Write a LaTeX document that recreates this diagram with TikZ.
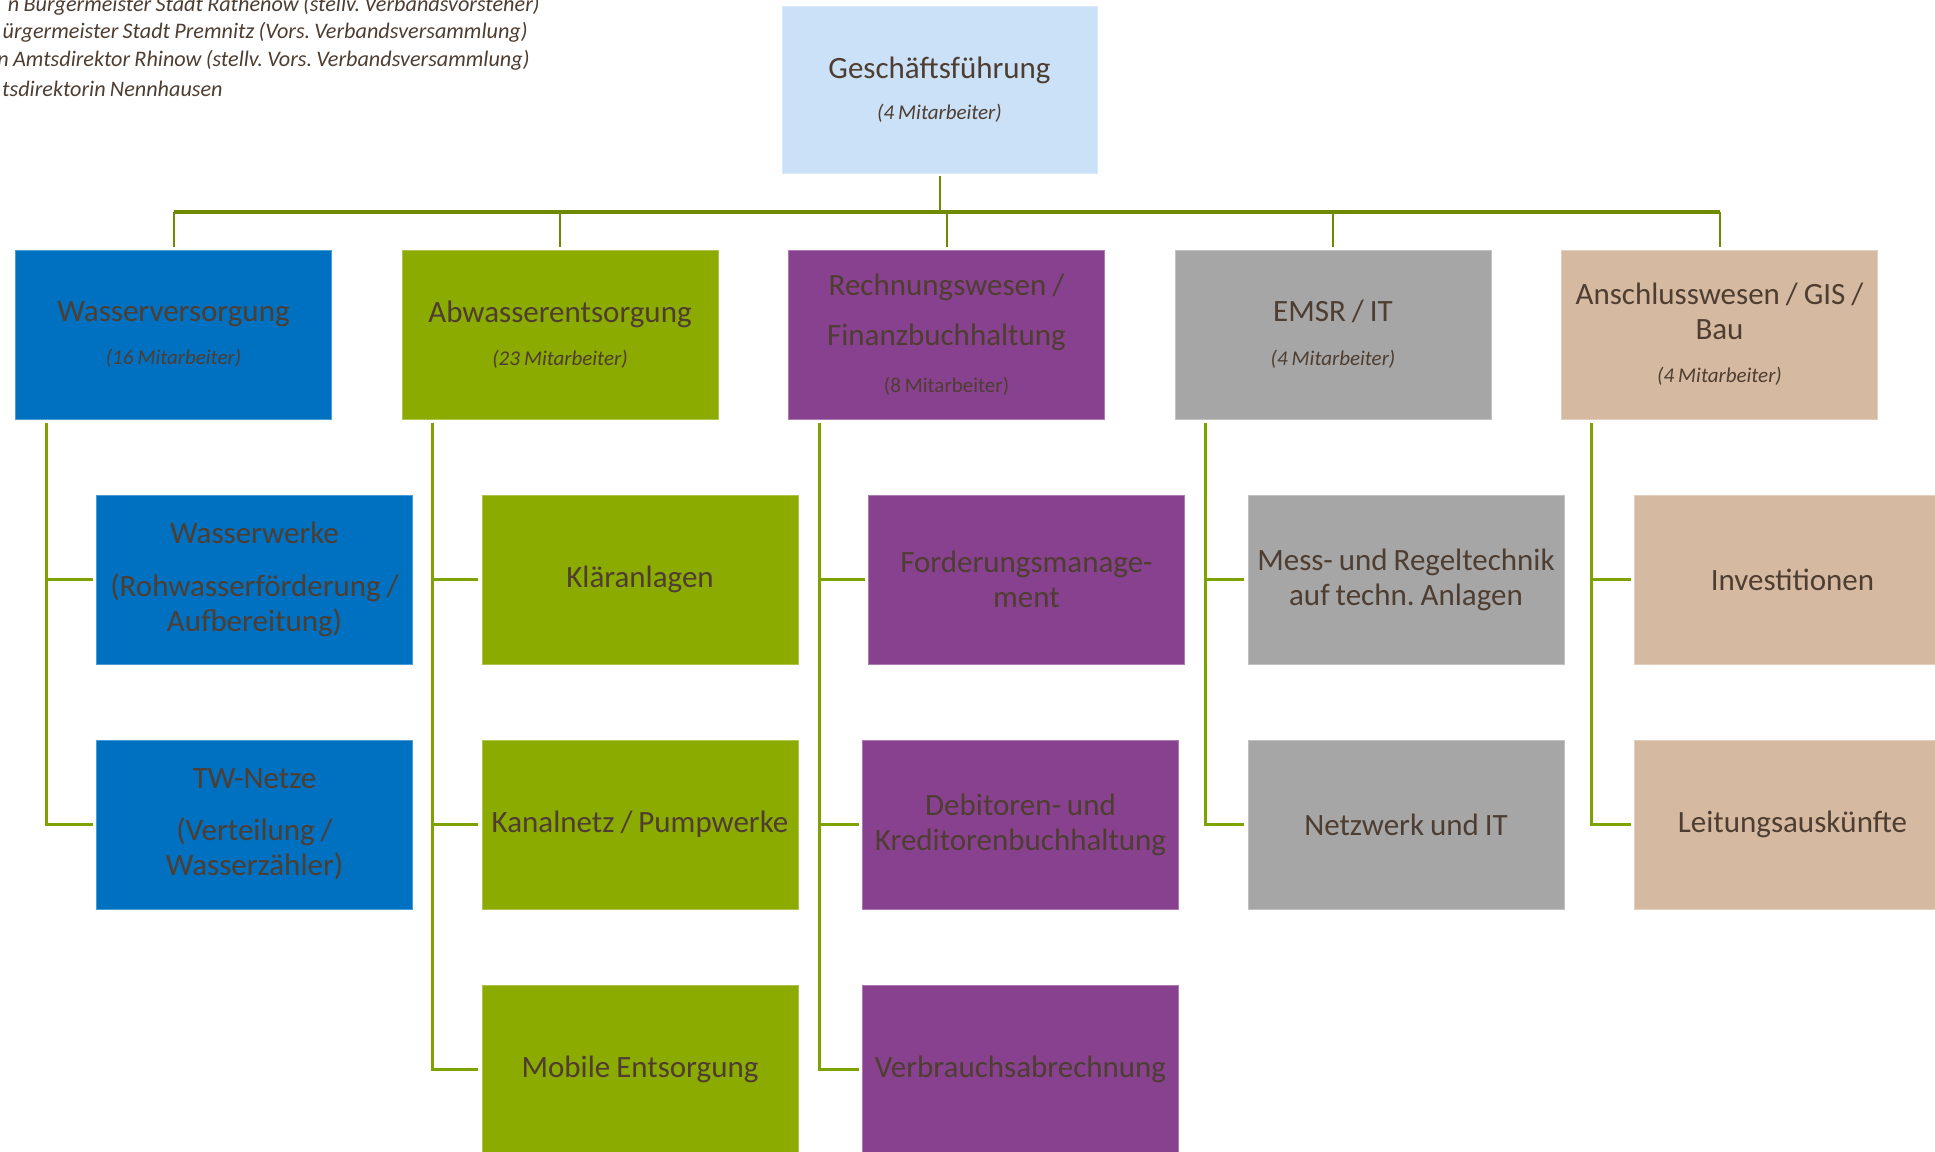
\documentclass[tikz,border=0pt]{standalone}
\usepackage{fontspec}
\setmainfont{Carlito}[WordSpace=0.85]
\frenchspacing
\usetikzlibrary{positioning,calc}
\definecolor{ink}{HTML}{4E3D31}
\definecolor{cgf}{HTML}{CAE1F8}
\definecolor{cwv}{HTML}{0070C0}
\definecolor{caw}{HTML}{8CAB00}
\definecolor{crw}{HTML}{88418F}
\definecolor{cit}{HTML}{A6A6A6}
\definecolor{can}{HTML}{D5BAA1}
\definecolor{ctrunk}{HTML}{6D8A00}
\definecolor{cbranch}{HTML}{7EA300}
\newcommand{\bigf}{\fontsize{15.5}{17.5}\selectfont}
\newcommand{\staff}{\fontsize{10.5}{12}\selectfont\itshape}
\tikzset{
  unit/.style={rectangle, inner sep=0pt, outer sep=0pt, minimum width=158pt, minimum height=84.5pt, text width=156pt, align=flush center, text=ink, font=\bigf},
  dept/.style={unit, fill=#1, draw=#1!70!white, line width=0.5pt},
  trunk/.style={draw=ctrunk, line width=2pt},
  drop/.style={draw=ctrunk, line width=1pt},
  branch/.style={draw=cbranch, line width=1.5pt},
  member/.style={font=\fontsize{11.1}{14}\selectfont\itshape, text=ink, inner sep=0pt, anchor=east},
}

\begin{document}
\begin{tikzpicture}[x=0.5pt, y=-0.5pt]
\useasboundingbox (0,0) rectangle (1935,1152);
\clip (0,0) rectangle (1935,1152);

% ---------------- members (cut at the left edge) ----------------
\foreach \xe/\ye/\t [count=\i] in {540/5/{n Bürgermeister Stadt Rathenow (stellv. Verbandsvorsteher)},
    528/32/{ürgermeister Stadt Premnitz (Vors. Verbandsversammlung)},
    530/60/{n Amtsdirektor Rhinow (stellv. Vors. Verbandsversammlung)},
    223/89/{tsdirektorin Nennhausen}}
  \node[member] (mem\i) at (\xe,\ye) {\t};

% ---------------- management ----------------
\node[dept=cgf, minimum width=157.5pt, minimum height=83.5pt] (gf) at (939.5,89.5) {Geschäftsführung\\[3pt]{\staff (4 Mitarbeiter)}};

% ---------------- departments ----------------
\node[dept=cwv] (wv) at (173.5,334.5) {Wasserversorgung\\[4pt]{\staff (16 Mitarbeiter)}};
\node[dept=caw, right=35.25pt of wv] (aw) {Abwasserentsorgung\\[4pt]{\staff (23 Mitarbeiter)}};
\node[dept=crw, right=35.25pt of aw] (rw) {Rechnungswesen /\\[7.5pt]Finanzbuchhaltung\\[6pt]{\fontsize{10.5}{12}\selectfont (8 Mitarbeiter)}};
\node[dept=cit, right=35.25pt of rw] (it) {EMSR / IT\\[4.5pt]{\staff (4 Mitarbeiter)}};
\node[dept=can, right=35.25pt of it] (an) {Anschlusswesen / GIS /\\Bau\\[4pt]{\staff (4 Mitarbeiter)}};

% ---------------- sections ----------------
\node[dept=cwv, below right=38pt and 40.5pt of wv.south west] (ww) {Wasserwerke\\[9pt](Rohwasserförderung /\\Aufbereitung)};
\node[dept=cwv, below=38pt of ww] (tw) {TW-Netze\\[8.5pt](Verteilung /\\Wasserzähler)};

\node[dept=caw, below right=38pt and 40pt of aw.south west] (kl) {Kläranlagen};
\node[dept=caw, below=38pt of kl] (kn) {Kanalnetz / Pumpwerke};
\node[dept=caw, below=38pt of kn] (me) {Mobile Entsorgung};

\node[dept=crw, below right=38pt and 40pt of rw.south west] (fm) {Forderungsmanage-\\ment};
\node[dept=crw, below=38pt of fm.south west, anchor=north west, xshift=-3pt] (db) {Debitoren- und\\Kreditorenbuchhaltung};
\node[dept=crw, below=38pt of db] (vb) {Verbrauchsabrechnung};

\node[dept=cit, below right=38pt and 36.5pt of it.south west] (ms) {Mess- und Regeltechnik\\auf techn. Anlagen};
\node[dept=cit, below=38pt of ms] (nw) {Netzwerk und IT};

\node[dept=can, below right=38pt and 36.5pt of an.south west] (iv) {Investitionen};
\node[dept=can, below=38pt of iv] (la) {Leitungsauskünfte};

% ---------------- connectors ----------------
\coordinate (bus) at (0,212);
\draw[drop] ([yshift=-1.5pt]gf.south) -- (gf.south |- bus);
\draw[trunk] (wv.north |- bus) -- (an.north |- bus);
\foreach \d in {wv,aw,rw,it,an} { \draw[drop] (\d.north |- bus) -- ([yshift=1.5pt]\d.north); }

\foreach \p/\dx/\kids in {wv/31/{ww,tw}, aw/30/{kl,kn,me}, rw/31/{fm,db,vb}, it/30/{ms,nw}, an/30/{iv,la}} {
  \coordinate (\p sp) at ($(\p.south west)+(\dx,4)$);
  \foreach \k in \kids { \draw[branch] (\p sp) |- ([xshift=-2pt]\k.west); }
}

\end{tikzpicture}
\end{document}
